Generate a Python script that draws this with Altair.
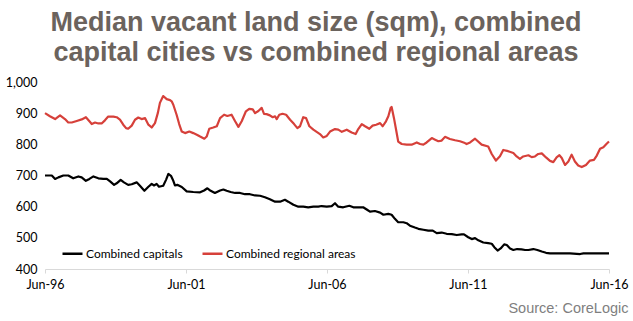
import altair as alt
import pandas as pd

# Months since Jun-1996 and median vacant land size (sqm)
cap_months = [0, 2.9, 4.3, 5.7, 7.8, 9.9, 12.0, 14.2, 15.6, 17.4, 18.9, 20.6, 22.7, 24.8, 26.3, 27.7,
              29.4, 30.5, 32.2, 33.6, 35.4, 36.9, 39.0, 40.4, 42.3, 44.0, 45.4, 46.4, 47.5, 48.5, 50.3,
              51.5, 52.5, 53.6, 54.6, 55.3, 56.3, 58.2, 60.3, 63.1, 66.0, 67.7, 69.1, 70.5, 72.3, 74.5,
              75.9, 77.3, 79.0, 80.9, 83.0, 85.1, 87.2, 89.4, 91.5, 93.6, 95.7, 97.9, 100.0, 102.1,
              103.5, 105.7, 107.8, 109.9, 112.0, 114.2, 116.3, 117.7, 119.9, 122.0, 123.4, 124.8, 126.9,
              129.5, 131.2, 133.3, 135.4, 136.9, 138.3, 140.4, 142.6, 144.0, 146.1, 147.5, 148.9, 150.3,
              152.5, 153.9, 155.3, 157.4, 158.9, 161.0, 163.1, 165.0, 166.7, 168.8, 170.9, 173.1, 175.2,
              177.3, 178.3, 180.1, 181.6, 183.0, 184.4, 186.5, 188.6, 190.1, 191.2, 192.6, 193.9, 195.4,
              196.5, 197.9, 199.3, 200.9, 202.8, 204.3, 205.7, 207.8, 209.5, 211.4, 213.2, 214.9, 219.1,
              223.4, 227.7, 229.1, 233.3, 240]
cap_values = [700, 700, 689, 694, 700, 700, 691, 697, 694, 683, 689, 697, 691, 689, 689, 681,
              670, 675, 686, 678, 670, 672, 678, 667, 651, 664, 673, 668, 673, 664, 667,
              686, 705, 699, 683, 668, 670, 663, 649, 647, 646, 652, 659, 651, 644, 652,
              655, 651, 647, 644, 644, 640, 640, 636, 635, 630, 624, 616, 616, 622,
              616, 606, 600, 600, 598, 600, 600, 602, 600, 602, 611, 600, 598,
              603, 598, 598, 598, 591, 584, 586, 581, 574, 577, 574, 561, 550,
              550, 547, 539, 533, 529, 526, 523, 523, 515, 517, 513, 512, 509,
              511, 511, 502, 496, 499, 492, 485, 483, 481, 470, 459, 466, 479,
              477, 466, 461, 464, 463, 461, 461, 464, 461, 456, 452, 450, 450,
              450, 448, 450, 450, 450]

reg_months = [0, 2.1, 4.3, 6.4, 8.5, 9.9, 11.4, 13.5, 15.6, 17.4, 18.9, 19.9, 21.3, 22.7, 24.1, 25.5,
              26.9, 29.1, 30.5, 31.9, 33.3, 34.5, 35.4, 36.9, 38.3, 39.7, 41.1, 42.6, 44.0, 45.4, 46.8,
              48.0, 48.9, 50.3, 51.8, 53.2, 53.9, 54.6, 56.0, 57.1, 58.2, 59.6, 61.4, 63.1, 64.6, 66.0,
              67.8, 68.8, 69.9, 71.6, 73.1, 74.5, 76.2, 77.6, 79.4, 80.9, 82.3, 83.7, 85.5, 86.9, 88.4,
              89.4, 90.8, 92.2, 93.2, 94.3, 95.7, 96.9, 97.9, 98.6, 99.7, 101.1, 102.6, 104.3, 106.0,
              107.4, 108.5, 109.9, 111.1, 112.5, 114.2, 115.6, 117.0, 118.4, 119.9, 121.3, 123.4, 124.8,
              126.3, 128.4, 130.5, 132.2, 133.3, 134.8, 136.2, 138.0, 139.4, 140.9, 142.6, 143.7, 145.1,
              146.1, 147.1, 147.5, 148.5, 149.4, 150.3, 151.8, 153.9, 156.0, 158.2, 159.6, 161.0, 162.4,
              164.6, 166.0, 167.4, 168.8, 170.2, 172.3, 174.5, 176.6, 178.7, 179.4, 180.9, 183.0, 185.8,
              188.6, 190.1, 191.9, 193.6, 195.0, 197.1, 199.3, 200.7, 202.1, 203.5, 205.7, 207.1, 208.5,
              209.9, 211.4, 213.2, 214.9, 216.3, 217.7, 218.9, 219.9, 221.3, 222.7, 224.1, 225.5, 226.9,
              228.4, 230.2, 231.9, 233.6, 234.8, 236.2, 237.6, 239.0, 240]
reg_values = [900, 890, 881, 893, 881, 870, 870, 875, 880, 887, 874, 865, 870, 867, 867, 877,
              889, 889, 887, 879, 863, 852, 850, 860, 879, 886, 881, 884, 863, 854, 868,
              900, 933, 955, 945, 942, 938, 927, 895, 865, 841, 836, 841, 836, 831, 825,
              818, 825, 850, 854, 858, 884, 895, 891, 895, 874, 856, 874, 906, 914, 912,
              900, 907, 917, 898, 897, 893, 887, 890, 881, 895, 898, 895, 879, 865,
              852, 858, 887, 884, 858, 847, 840, 833, 822, 827, 841, 849, 847,
              840, 847, 838, 833, 849, 865, 858, 850, 860, 863, 868, 858, 874,
              890, 917, 920, 884, 847, 809, 801, 799, 799, 806, 801, 799, 806,
              820, 815, 810, 812, 824, 817, 813, 810, 804, 801, 806, 818, 799,
              793, 769, 748, 762, 782, 778, 772, 761, 753, 761, 765, 759, 761,
              769, 771, 758, 747, 743, 758, 765, 756, 734, 745, 767, 745, 732,
              727, 734, 748, 750, 764, 786, 791, 802, 809]

series_names = ["Combined capitals", "Combined regional areas"]
series_colors = ["#000000", "#d6403a"]
y_ticks = [400, 500, 600, 700, 800, 900, 1000]
x_tick_years = [1996, 2001, 2006, 2011, 2016]

start = pd.Timestamp("1996-06-01")


def to_dates(months):
    return [(start + pd.to_timedelta(m * 30.4375, unit="D")).strftime("%Y-%m-%dT%H:%M:%S") for m in months]


df = pd.concat([
    pd.DataFrame({"date": to_dates(cap_months), "value": cap_values, "series": series_names[0]}),
    pd.DataFrame({"date": to_dates(reg_months), "value": reg_values, "series": series_names[1]}),
])

chart = alt.Chart(df).mark_line(strokeWidth=2.2, strokeJoin="round").encode(
    x=alt.X("date:T",
            scale=alt.Scale(domain=[alt.DateTime(year=1996, month=6, date=1),
                                    alt.DateTime(year=2016, month=6, date=1)]),
            axis=alt.Axis(values=[alt.DateTime(year=y, month=6, date=1) for y in x_tick_years],
                          format="%b-%y", grid=False, domainColor="#d9d9d9", tickColor="#d9d9d9",
                          tickSize=4, labelFont="Lato", labelFontSize=12.5, labelColor="#000000",
                          labelPadding=5, labelFlush=False,
                          title="Source: CoreLogic", titleFont="Liberation Sans",
                          titleFontWeight="normal", titleFontSize=14.5, titleColor="#7f7f7f",
                          titleAnchor="end", titleAlign="right", titleX=583, titleY=43,
                          titleBaseline="alphabetic")),
    y=alt.Y("value:Q", scale=alt.Scale(domain=[400, 1000], nice=False, zero=False),
            axis=alt.Axis(values=y_ticks, format=",.0f", grid=False, domain=False, ticks=False,
                          labelFont="Lato", labelFontSize=12.5, labelColor="#000000",
                          labelPadding=8, title=None)),
    color=alt.Color("series:N",
                    scale=alt.Scale(domain=series_names, range=series_colors),
                    legend=alt.Legend(title=None, orient="none", legendX=16, legendY=160,
                                      direction="horizontal", symbolType="stroke",
                                      symbolSize=400, symbolStrokeWidth=2.5, labelOffset=2,
                                      columnPadding=14, labelFont="Lato", labelFontSize=12,
                                      labelColor="#000000")),
    order=alt.value(0),
).properties(
    width=564,
    height=187,
    title=alt.TitleParams(
        text=["Median vacant land size (sqm), combined",
              "capital cities vs combined regional areas"],
        anchor="middle", font="Liberation Sans", fontSize=27, fontWeight="bold",
        color="#6b635d", lineHeight=30, offset=9, dx=-11),
    autosize=alt.AutoSizeParams(type="none"),
    padding={"left": 45, "top": 82, "right": 24, "bottom": 52},
).configure_view(stroke=None)

chart.save("out.html", embed_options={"renderer": "svg", "actions": False})
